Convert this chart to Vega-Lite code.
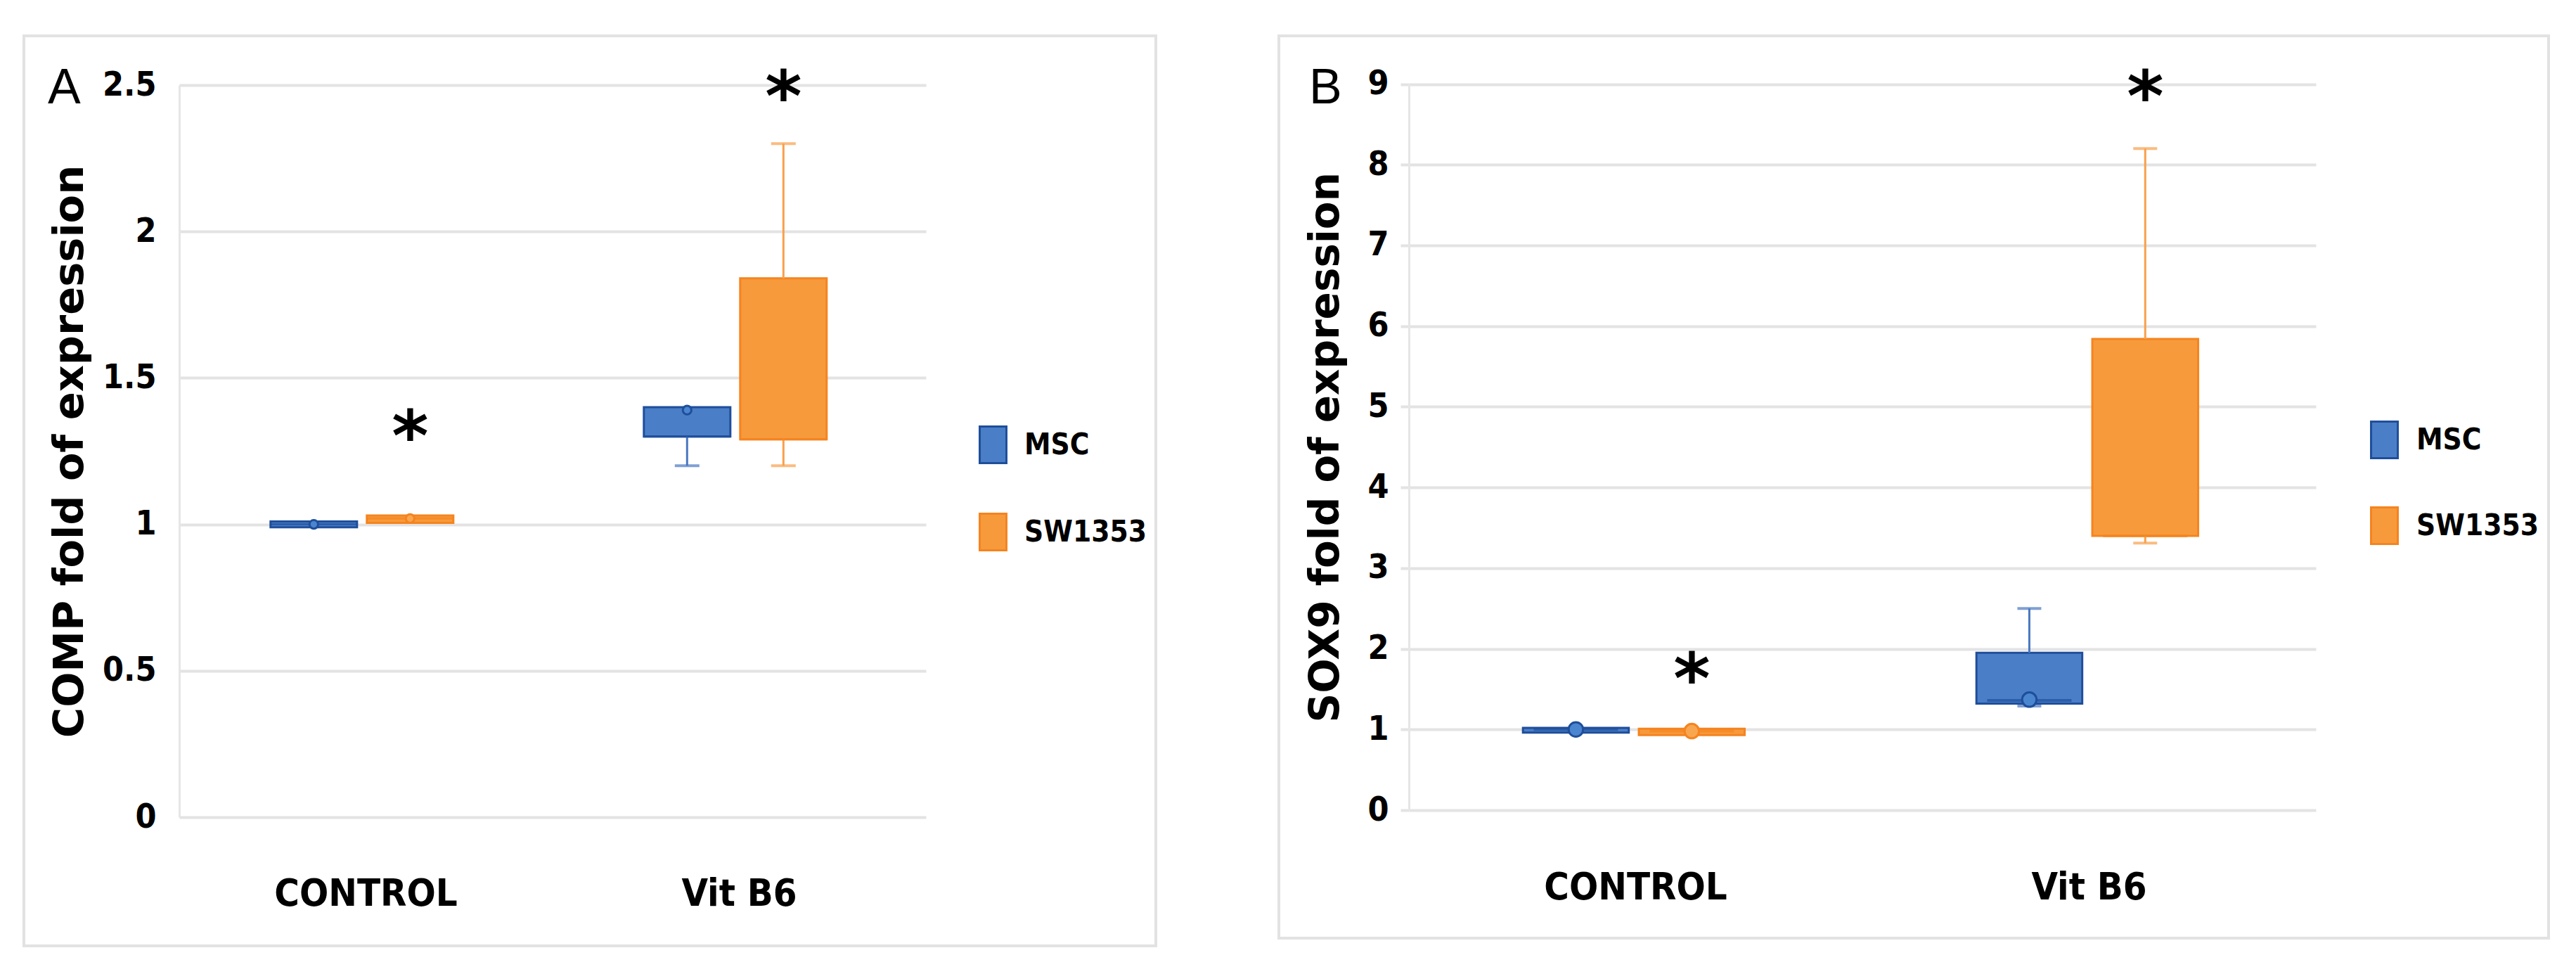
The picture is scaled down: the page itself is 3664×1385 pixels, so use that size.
{
  "$schema": "https://vega.github.io/schema/vega-lite/v6.json",
  "background": "white",
  "padding": {"left": 32, "top": 49, "right": 0, "bottom": 0},
  "bounds": "flush",
  "spacing": 175,
  "datasets": {
    "boxA": [
      {"group": "CONTROL", "series": "MSC", "min": 0.99, "q1": 0.99, "median": 1.0, "q3": 1.01, "max": 1.01, "mean": 1.0},
      {"group": "CONTROL", "series": "SW1353", "min": 1.005, "q1": 1.005, "median": 1.02, "q3": 1.03, "max": 1.03, "mean": 1.02},
      {"group": "Vit B6", "series": "MSC", "min": 1.2, "q1": 1.3, "median": 1.3, "q3": 1.4, "max": 1.4, "mean": 1.39},
      {"group": "Vit B6", "series": "SW1353", "min": 1.2, "q1": 1.29, "median": 1.29, "q3": 1.84, "max": 2.3, "mean": null}
    ],
    "starA": [
      {"group": "CONTROL", "series": "SW1353", "y": 1.32, "label": "*"},
      {"group": "Vit B6", "series": "SW1353", "y": 2.48, "label": "*"}
    ],
    "boxB": [
      {"group": "CONTROL", "series": "MSC", "min": 0.96, "q1": 0.96, "median": 1.0, "q3": 1.02, "max": 1.02, "mean": 1.0},
      {"group": "CONTROL", "series": "SW1353", "min": 0.93, "q1": 0.93, "median": 0.98, "q3": 1.01, "max": 1.01, "mean": 0.98},
      {"group": "Vit B6", "series": "MSC", "min": 1.29, "q1": 1.32, "median": 1.36, "q3": 1.95, "max": 2.5, "mean": 1.37},
      {"group": "Vit B6", "series": "SW1353", "min": 3.31, "q1": 3.4, "median": 3.4, "q3": 5.84, "max": 8.2, "mean": null}
    ],
    "starB": [
      {"group": "CONTROL", "series": "SW1353", "y": 1.70, "label": "*"},
      {"group": "Vit B6", "series": "SW1353", "y": 8.92, "label": "*"}
    ]
  },
  "hconcat": [
    {
      "width": 1610,
      "height": 1294,
      "title": {"text": "A", "anchor": "start", "frame": "group", "orient": "top", "offset": -166, "dx": 34, "baseline": "alphabetic", "font": "Liberation Sans", "fontSize": 70, "fontWeight": "normal", "color": "black"},
      "encoding": {
        "x": {"field": "group", "type": "nominal", "sort": ["CONTROL", "Vit B6"], "title": null,
          "scale": {"range": [221, 1283], "paddingInner": 0, "paddingOuter": 0},
          "axis": {"orient": "bottom", "offset": -183, "domain": false, "ticks": false, "tickSize": 0, "grid": false, "labelAngle": 0, "labelPadding": 125, "labelBaseline": "alphabetic", "labelLimit": 0, "labelFont": "DejaVu Sans Condensed, Liberation Sans", "labelFontSize": 54, "labelFontWeight": "bold", "labelColor": "black"}},
        "xOffset": {"field": "series", "type": "nominal", "sort": ["MSC", "SW1353"],
          "scale": {"paddingInner": 0.102, "paddingOuter": 0.989, "align": 0.479}}
      },
      "layer": [
        {
          "data": {"name": "boxA"},
          "mark": {"type": "bar", "strokeWidth": 3},
          "encoding": {
            "y": {"field": "q1", "type": "quantitative", "title": "COMP fold of expression",
              "scale": {"domain": [0, 2.5], "range": [1111, 70], "nice": false, "zero": false},
              "axis": {"orient": "left", "offset": -221, "values": [0, 0.5, 1, 1.5, 2, 2.5], "format": "~g",
                "grid": true, "gridColor": "#e3e3e3", "gridWidth": 4, "domain": true, "domainColor": "#e6e6e6", "domainWidth": 3,
                "ticks": false, "tickSize": 0, "labelPadding": 33, "labelBaseline": "middle",
                "labelFont": "DejaVu Sans Condensed, Liberation Sans", "labelFontSize": 48, "labelFontWeight": "bold", "labelColor": "black",
                "title": "COMP fold of expression", "titleFont": "DejaVu Sans", "titleFontSize": 59, "titleFontWeight": "bold", "titleColor": "black",
                "titleAngle": -90, "titleBaseline": "alphabetic", "titleX": -138}},
            "y2": {"field": "q3"},
            "fill": {"field": "series", "type": "nominal", "sort": ["MSC", "SW1353"],
              "scale": {"domain": ["MSC", "SW1353"], "range": ["#4A7FC7", "#F79A3C"]},
              "legend": {"orient": "none", "legendX": 1351, "legendY": 554, "title": null, "padding": 0,
                "symbolType": "M-0.73,-1H0.73V1H-0.73Z", "symbolSize": 2704, "symbolStrokeWidth": 3, "labelLimit": 0,
                "labelFont": "DejaVu Sans Condensed, Liberation Sans", "labelFontSize": 42, "labelFontWeight": "bold", "labelColor": "black",
                "labelOffset": 17, "rowPadding": 59}},
            "stroke": {"field": "series", "type": "nominal", "sort": ["MSC", "SW1353"],
              "scale": {"domain": ["MSC", "SW1353"], "range": ["#1F4E9B", "#F5841F"]},
              "legend": {"orient": "none", "legendX": 1351, "legendY": 554, "title": null, "padding": 0,
                "symbolType": "M-0.73,-1H0.73V1H-0.73Z", "symbolSize": 2704, "symbolStrokeWidth": 3, "labelLimit": 0,
                "labelFont": "DejaVu Sans Condensed, Liberation Sans", "labelFontSize": 42, "labelFontWeight": "bold", "labelColor": "black",
                "labelOffset": 17, "rowPadding": 59}}
          }
        },
        {
          "data": {"name": "boxA"},
          "transform": [{"filter": "datum.min < datum.q1"}],
          "mark": {"type": "rule", "strokeWidth": 3},
          "encoding": {
            "y": {"field": "min", "type": "quantitative", "title": "COMP fold of expression"},
            "y2": {"field": "q1"},
            "stroke": {"condition": {"test": "datum.series === 'MSC'", "value": "#4A78C0"}, "value": "#F8A04C"}
          }
        },
        {
          "data": {"name": "boxA"},
          "transform": [{"filter": "datum.max > datum.q3"}],
          "mark": {"type": "rule", "strokeWidth": 3},
          "encoding": {
            "y": {"field": "q3", "type": "quantitative", "title": "COMP fold of expression"},
            "y2": {"field": "max"},
            "stroke": {"condition": {"test": "datum.series === 'MSC'", "value": "#4A78C0"}, "value": "#F8A04C"}
          }
        },
        {
          "data": {"name": "boxA"},
          "transform": [{"filter": "datum.min < datum.q1"}],
          "mark": {"type": "tick", "size": 35, "thickness": 4},
          "encoding": {
            "y": {"field": "min", "type": "quantitative", "title": "COMP fold of expression"},
            "color": {"condition": {"test": "datum.series === 'MSC'", "value": "#4A78C0"}, "value": "#F8A04C"}
          }
        },
        {
          "data": {"name": "boxA"},
          "transform": [{"filter": "datum.max > datum.q3"}],
          "mark": {"type": "tick", "size": 35, "thickness": 4},
          "encoding": {
            "y": {"field": "max", "type": "quantitative", "title": "COMP fold of expression"},
            "color": {"condition": {"test": "datum.series === 'MSC'", "value": "#4A78C0"}, "value": "#F8A04C"}
          }
        },
        {
          "data": {"name": "boxA"},
          "mark": {"type": "tick", "size": 123, "thickness": 3},
          "encoding": {
            "y": {"field": "median", "type": "quantitative", "title": "COMP fold of expression"},
            "color": {"condition": {"test": "datum.series === 'MSC'", "value": "#1F4E9B"}, "value": "#F5841F"}
          }
        },
        {
          "data": {"name": "boxA"},
          "transform": [{"filter": "isValid(datum.mean)"}],
          "mark": {"type": "point", "shape": "circle", "filled": true, "size": 150, "strokeWidth": 3, "opacity": 1},
          "encoding": {
            "y": {"field": "mean", "type": "quantitative", "title": "COMP fold of expression"},
            "fill": {"condition": {"test": "datum.series === 'MSC'", "value": "#4A86D0"}, "value": "#F9A650"},
            "stroke": {"condition": {"test": "datum.series === 'MSC'", "value": "#1F4E9B"}, "value": "#F5841F"}
          }
        },
        {
          "data": {"name": "starA"},
          "mark": {"type": "text", "font": "DejaVu Sans", "fontSize": 100, "fontWeight": "bold", "baseline": "middle", "align": "center", "dy": 13, "color": "black"},
          "encoding": {
            "y": {"field": "y", "type": "quantitative", "title": "COMP fold of expression"},
            "text": {"field": "label"}
          }
        }
      ]
    },
    {
      "width": 1806,
      "height": 1283,
      "title": {"text": "B", "anchor": "start", "frame": "group", "orient": "top", "offset": -166, "dx": 43, "baseline": "alphabetic", "font": "Liberation Sans", "fontSize": 70, "fontWeight": "normal", "color": "black"},
      "encoding": {
        "x": {"field": "group", "type": "nominal", "sort": ["CONTROL", "Vit B6"], "title": null,
          "scale": {"range": [185, 1475], "paddingInner": 0, "paddingOuter": 0},
          "axis": {"orient": "bottom", "offset": -182, "domain": false, "ticks": false, "tickSize": 0, "grid": false, "labelAngle": 0, "labelPadding": 126, "labelBaseline": "alphabetic", "labelLimit": 0, "labelFont": "DejaVu Sans Condensed, Liberation Sans", "labelFontSize": 54, "labelFontWeight": "bold", "labelColor": "black"}},
        "xOffset": {"field": "series", "type": "nominal", "sort": ["MSC", "SW1353"],
          "scale": {"paddingInner": 0.087, "paddingOuter": 1.496, "align": 0.492}}
      },
      "layer": [
        {
          "data": {"name": "boxB"},
          "mark": {"type": "bar", "strokeWidth": 3},
          "encoding": {
            "y": {"field": "q1", "type": "quantitative", "title": "SOX9 fold of expression",
              "scale": {"domain": [0, 9], "range": [1101, 68.5], "nice": false, "zero": false},
              "axis": {"orient": "left", "offset": -185, "values": [0, 1, 2, 3, 4, 5, 6, 7, 8, 9], "format": "~g",
                "grid": true, "gridColor": "#e3e3e3", "gridWidth": 4, "domain": true, "domainColor": "#e6e6e6", "domainWidth": 3,
                "ticks": true, "tickSize": 12, "tickColor": "#e3e3e3", "tickWidth": 4, "labelPadding": 17, "labelBaseline": "middle",
                "labelFont": "DejaVu Sans Condensed, Liberation Sans", "labelFontSize": 48, "labelFontWeight": "bold", "labelColor": "black",
                "title": "SOX9 fold of expression", "titleFont": "DejaVu Sans", "titleFontSize": 58, "titleFontWeight": "bold", "titleColor": "black",
                "titleAngle": -90, "titleBaseline": "alphabetic", "titleX": -101}},
            "y2": {"field": "q3"},
            "fill": {"field": "series", "type": "nominal", "sort": ["MSC", "SW1353"],
              "scale": {"domain": ["MSC", "SW1353"], "range": ["#4A7FC7", "#F79A3C"]},
              "legend": {"orient": "none", "legendX": 1545, "legendY": 547, "title": null, "padding": 0,
                "symbolType": "M-0.73,-1H0.73V1H-0.73Z", "symbolSize": 2704, "symbolStrokeWidth": 3, "labelLimit": 0,
                "labelFont": "DejaVu Sans Condensed, Liberation Sans", "labelFontSize": 42, "labelFontWeight": "bold", "labelColor": "black",
                "labelOffset": 18, "rowPadding": 57}},
            "stroke": {"field": "series", "type": "nominal", "sort": ["MSC", "SW1353"],
              "scale": {"domain": ["MSC", "SW1353"], "range": ["#1F4E9B", "#F5841F"]},
              "legend": {"orient": "none", "legendX": 1545, "legendY": 547, "title": null, "padding": 0,
                "symbolType": "M-0.73,-1H0.73V1H-0.73Z", "symbolSize": 2704, "symbolStrokeWidth": 3, "labelLimit": 0,
                "labelFont": "DejaVu Sans Condensed, Liberation Sans", "labelFontSize": 42, "labelFontWeight": "bold", "labelColor": "black",
                "labelOffset": 18, "rowPadding": 57}}
          }
        },
        {
          "data": {"name": "boxB"},
          "transform": [{"filter": "datum.min < datum.q1"}],
          "mark": {"type": "rule", "strokeWidth": 3},
          "encoding": {
            "y": {"field": "min", "type": "quantitative", "title": "SOX9 fold of expression"},
            "y2": {"field": "q1"},
            "stroke": {"condition": {"test": "datum.series === 'MSC'", "value": "#4A78C0"}, "value": "#F8A04C"}
          }
        },
        {
          "data": {"name": "boxB"},
          "transform": [{"filter": "datum.max > datum.q3"}],
          "mark": {"type": "rule", "strokeWidth": 3},
          "encoding": {
            "y": {"field": "q3", "type": "quantitative", "title": "SOX9 fold of expression"},
            "y2": {"field": "max"},
            "stroke": {"condition": {"test": "datum.series === 'MSC'", "value": "#4A78C0"}, "value": "#F8A04C"}
          }
        },
        {
          "data": {"name": "boxB"},
          "transform": [{"filter": "datum.min < datum.q1"}],
          "mark": {"type": "tick", "size": 34, "thickness": 4},
          "encoding": {
            "y": {"field": "min", "type": "quantitative", "title": "SOX9 fold of expression"},
            "color": {"condition": {"test": "datum.series === 'MSC'", "value": "#4A78C0"}, "value": "#F8A04C"}
          }
        },
        {
          "data": {"name": "boxB"},
          "transform": [{"filter": "datum.max > datum.q3"}],
          "mark": {"type": "tick", "size": 34, "thickness": 4},
          "encoding": {
            "y": {"field": "max", "type": "quantitative", "title": "SOX9 fold of expression"},
            "color": {"condition": {"test": "datum.series === 'MSC'", "value": "#4A78C0"}, "value": "#F8A04C"}
          }
        },
        {
          "data": {"name": "boxB"},
          "mark": {"type": "tick", "size": 120, "thickness": 4},
          "encoding": {
            "y": {"field": "median", "type": "quantitative", "title": "SOX9 fold of expression"},
            "color": {"condition": {"test": "datum.series === 'MSC'", "value": "#1F4E9B"}, "value": "#F5841F"}
          }
        },
        {
          "data": {"name": "boxB"},
          "transform": [{"filter": "isValid(datum.mean)"}],
          "mark": {"type": "point", "shape": "circle", "filled": true, "size": 420, "strokeWidth": 3, "opacity": 1},
          "encoding": {
            "y": {"field": "mean", "type": "quantitative", "title": "SOX9 fold of expression"},
            "fill": {"condition": {"test": "datum.series === 'MSC'", "value": "#4A86D0"}, "value": "#F9A650"},
            "stroke": {"condition": {"test": "datum.series === 'MSC'", "value": "#1F4E9B"}, "value": "#F5841F"}
          }
        },
        {
          "data": {"name": "starB"},
          "mark": {"type": "text", "font": "DejaVu Sans", "fontSize": 100, "fontWeight": "bold", "baseline": "middle", "align": "center", "dy": 13, "color": "black"},
          "encoding": {
            "y": {"field": "y", "type": "quantitative", "title": "SOX9 fold of expression"},
            "text": {"field": "label"}
          }
        }
      ]
    }
  ],
  "resolve": {
    "scale": {"x": "independent", "y": "independent", "xOffset": "independent", "fill": "independent", "stroke": "independent"},
    "legend": {"fill": "independent", "stroke": "independent"},
    "axis": {"x": "independent", "y": "independent"}
  },
  "config": {
    "view": {"stroke": "#e2e2e2", "strokeWidth": 4, "fill": "white"}
  }
}
